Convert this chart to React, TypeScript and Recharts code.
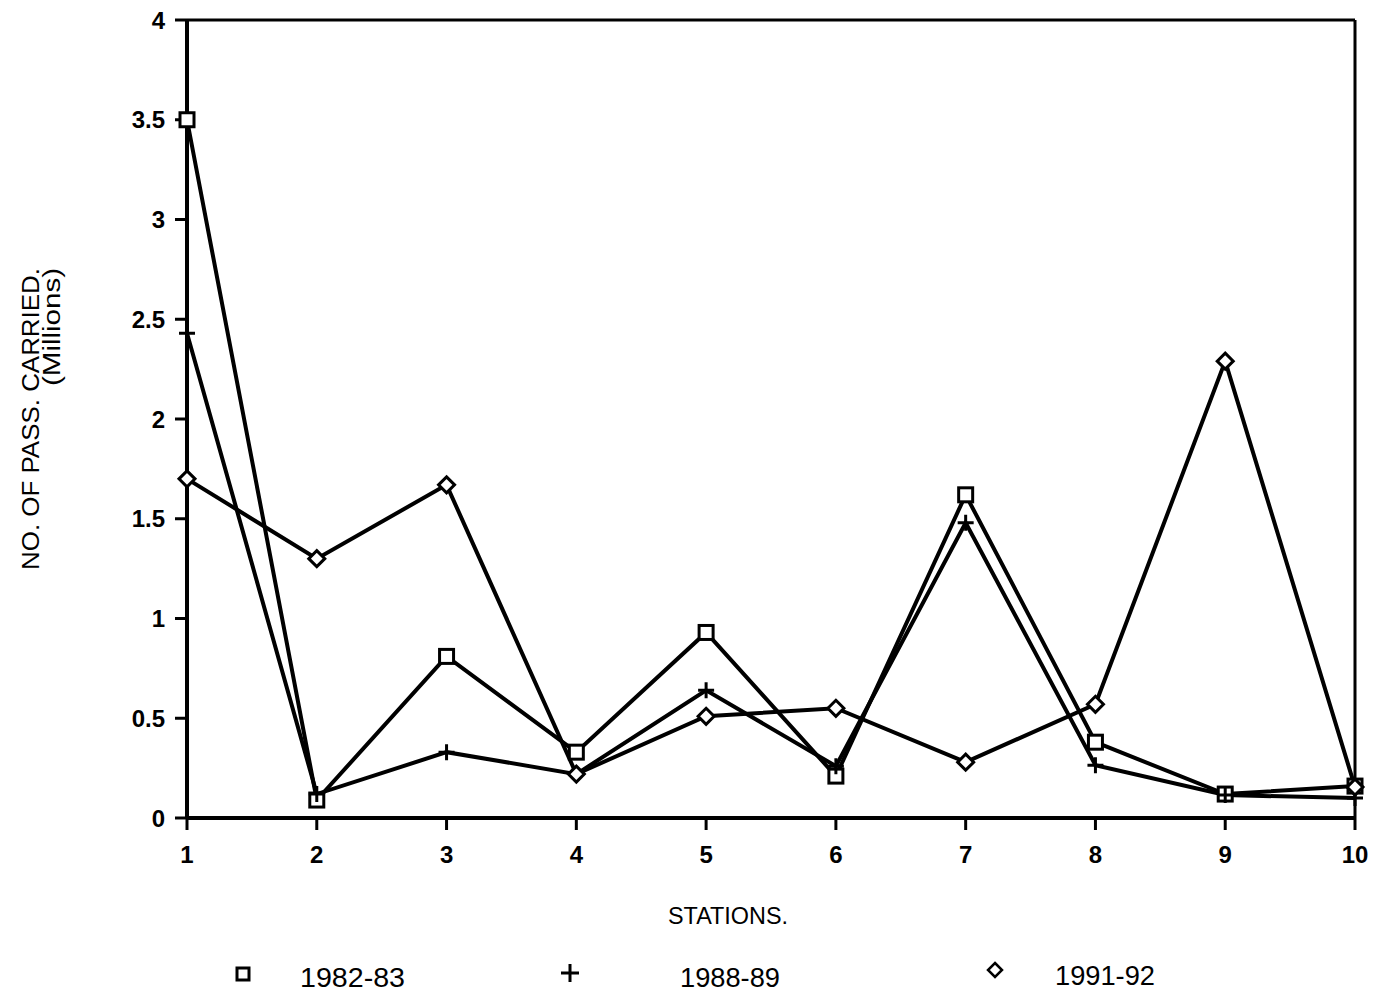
import React from 'react';
import { LineChart, Line, XAxis, YAxis, ReferenceLine, Legend } from 'recharts';

// stations on the x axis
const stations = [1, 2, 3, 4, 5, 6, 7, 8, 9, 10];
// passengers carried, millions
const pass1982 = [3.5, 0.09, 0.81, 0.33, 0.93, 0.21, 1.62, 0.38, 0.12, 0.16];
const pass1988 = [2.43, 0.12, 0.33, 0.22, 0.64, 0.26, 1.48, 0.265, 0.115, 0.1];
const pass1991 = [1.7, 1.3, 1.67, 0.22, 0.51, 0.55, 0.28, 0.57, 2.29, 0.155];
const yTicks = [0, 0.5, 1, 1.5, 2, 2.5, 3, 3.5, 4];

const data = stations.map((s, i) => ({
    station: s,
    y1982: pass1982[i],
    y1988: pass1988[i],
    y1991: pass1991[i],
}));

const INK = '#000';
const labelFont = '"Liberation Sans Narrow", "Liberation Sans", Arial, sans-serif';
const tickFont = '"Liberation Sans", Arial, sans-serif';

const SquareDot = (props: any) => {
    const { cx, cy, index } = props;
    if (cx == null || cy == null) return null;
    return <rect key={'sq' + index} x={cx - 7} y={cy - 7} width={14} height={14} fill="#fff" stroke={INK} strokeWidth={3} />;
};

const PlusDot = (props: any) => {
    const { cx, cy, index } = props;
    if (cx == null || cy == null) return null;
    return (
        <path key={'pl' + index} d={`M${cx - 8},${cy}H${cx + 8}M${cx},${cy - 8}V${cy + 8}`} stroke={INK} strokeWidth={3} fill="none" />
    );
};

const DiamondDot = (props: any) => {
    const { cx, cy, index } = props;
    if (cx == null || cy == null) return null;
    return (
        <path key={'di' + index} d={`M${cx},${cy - 8}L${cx + 8},${cy}L${cx},${cy + 8}L${cx - 8},${cy}Z`} fill="#fff" stroke={INK} strokeWidth={3} />
    );
};

const YTitle = () => (
    <g fontFamily={labelFont} fill={INK} fontSize={23}>
        <text x={31} y={268} transform="rotate(-90 31 268)" textAnchor="end" dy="0.35em" textLength={302} lengthAdjust="spacingAndGlyphs">
            NO. OF PASS. CARRIED.
        </text>
        <text x={52} y={268} transform="rotate(-90 52 268)" textAnchor="end" dy="0.35em" textLength={118} lengthAdjust="spacingAndGlyphs">
            (Millions)
        </text>
    </g>
);

const XTitle = () => (
    <text x={668} y={924} fontFamily={labelFont} fontSize={23} fill={INK} textLength={120} lengthAdjust="spacingAndGlyphs">
        STATIONS.
    </text>
);

const LegendBox = () => (
    <svg width={1386} height={57} style={{ display: 'block' }}>
        <g fontFamily={labelFont} fontSize={27} fill={INK}>
            <rect x={237} y={28} width={12} height={12} fill="#fff" stroke={INK} strokeWidth={3} />
            <text x={300} y={47} textLength={105} lengthAdjust="spacingAndGlyphs">1982-83</text>
            <path d="M561,33H579M570,24V42" stroke={INK} strokeWidth={3} />
            <text x={680} y={47} textLength={100} lengthAdjust="spacingAndGlyphs">1988-89</text>
            <path d="M995,23L1002,30L995,37L988,30Z" fill="#fff" stroke={INK} strokeWidth={2.5} />
            <text x={1055} y={45} textLength={100} lengthAdjust="spacingAndGlyphs">1991-92</text>
        </g>
    </svg>
);

export default function App() {
    return (
        <div style={{ position: 'absolute', left: 0, top: 0, background: '#fff' }}>
            <LineChart width={1386} height={997} data={data} margin={{ top: 20, right: 31, left: 127, bottom: 82 }}>
                <XAxis
                    dataKey="station"
                    type="number"
                    domain={[1, 10]}
                    ticks={stations}
                    height={40}
                    axisLine={{ stroke: INK, strokeWidth: 4 }}
                    tickLine={{ stroke: INK, strokeWidth: 3 }}
                    tickSize={12}
                    tickMargin={16}
                    tick={{ fill: INK, fontSize: 24, fontWeight: 700, fontFamily: tickFont }}
                    label={{ content: () => <XTitle /> }}
                />
                <YAxis
                    type="number"
                    domain={[0, 4]}
                    ticks={yTicks}
                    width={60}
                    axisLine={{ stroke: INK, strokeWidth: 4 }}
                    tickLine={{ stroke: INK, strokeWidth: 3 }}
                    tickSize={12}
                    tickMargin={10}
                    tickFormatter={(v) => String(v)}
                    tick={{ fill: INK, fontSize: 24, fontWeight: 700, fontFamily: tickFont }}
                    label={{ content: () => <YTitle /> }}
                />
                <ReferenceLine y={4} stroke={INK} strokeWidth={3} />
                <ReferenceLine x={10} stroke={INK} strokeWidth={3} />
                <Line dataKey="y1982" name="1982-83" stroke={INK} strokeWidth={4} dot={SquareDot} isAnimationActive={false} />
                <Line dataKey="y1988" name="1988-89" stroke={INK} strokeWidth={4} dot={PlusDot} isAnimationActive={false} />
                <Line dataKey="y1991" name="1991-92" stroke={INK} strokeWidth={4} dot={DiamondDot} isAnimationActive={false} />
                <Legend
                    content={() => <LegendBox />}
                    wrapperStyle={{ position: 'absolute', left: 0, top: 940, width: 1386, height: 57 }}
                />
            </LineChart>
        </div>
    );
}
